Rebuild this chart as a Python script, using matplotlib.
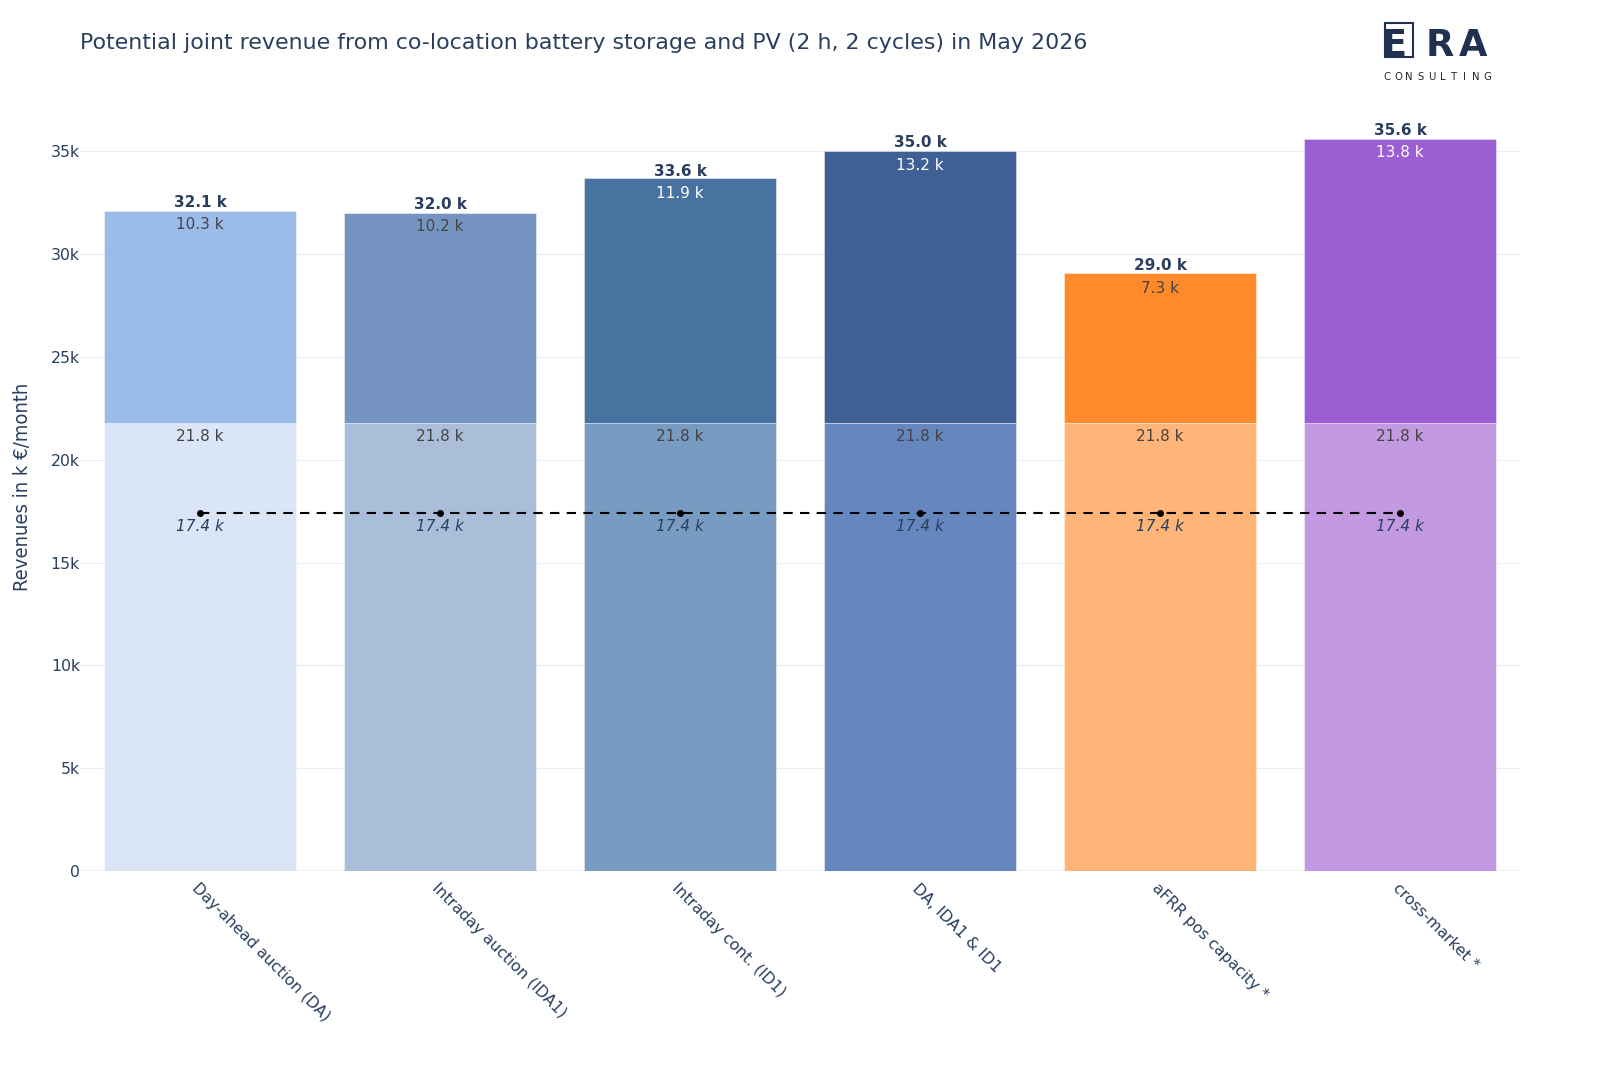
import matplotlib
matplotlib.use("Agg")
import matplotlib.pyplot as plt
from matplotlib.patches import Rectangle
import numpy as np

# data (k EUR / month)
categories = ["Day-ahead auction (DA)", "Intraday auction (IDA1)", "Intraday cont. (ID1)",
              "DA, IDA1 & ID1", "aFRR pos capacity *", "cross-market *"]
pv_base = [21.8, 21.8, 21.8, 21.8, 21.8, 21.8]
battery_add = [10.3, 10.2, 11.9, 13.2, 7.3, 13.8]
totals = [32.1, 32.0, 33.6, 35.0, 29.0, 35.6]
pv_only = [17.4, 17.4, 17.4, 17.4, 17.4, 17.4]

base_colors = ["#dae5f6", "#aabdd9", "#789bc2", "#6587bd", "#ffb578", "#c399e2"]
top_colors = ["#9bbbe9", "#7694c1", "#4873a0", "#3f6094", "#ff8a2b", "#9d5ed3"]
top_text_colors = ["#444444", "#444444", "white", "white", "#444444", "white"]

navy = "#2a3f5f"
grid = "#ebf0f8"

fig = plt.figure(figsize=(16, 10.67), dpi=100)
ax = fig.add_axes([0.05, 0.1837, 0.90, 0.7203])

x = np.arange(len(categories))
ax.bar(x, pv_base, width=0.8, color=base_colors, edgecolor=(1, 1, 1, 0.5), linewidth=0.6, zorder=2)
ax.bar(x, battery_add, bottom=pv_base, width=0.8, color=top_colors,
       edgecolor=(1, 1, 1, 0.5), linewidth=0.6, zorder=2)

# labels
fs = 11
for i in range(len(x)):
    ax.annotate(f"{totals[i]:.1f} k", (x[i], totals[i]), xytext=(0, 1), textcoords="offset points",
                ha="center", va="bottom", fontsize=fs, fontweight="bold", color=navy, zorder=5)
    ax.annotate(f"{battery_add[i]:.1f} k", (x[i], totals[i]), xytext=(0, -4.5), textcoords="offset points",
                ha="center", va="top", fontsize=fs, color=top_text_colors[i], zorder=5)
    ax.annotate(f"{pv_base[i]:.1f} k", (x[i], pv_base[i]), xytext=(0, -4.5), textcoords="offset points",
                ha="center", va="top", fontsize=fs, color="#444444", zorder=5)
    ax.annotate(f"{pv_only[i]:.1f} k", (x[i], pv_only[i]), xytext=(0, -4.5), textcoords="offset points",
                ha="center", va="top", fontsize=fs, style="italic", color=navy, zorder=5)

ax.plot(x, pv_only, color="black", linestyle=(0, (4.5, 3.5)), linewidth=1.5,
        marker="o", markersize=4, zorder=4)

ax.set_xlim(-0.5, len(x) - 0.5)
ax.set_ylim(0, 37.38)
ax.set_yticks([0, 5, 10, 15, 20, 25, 30, 35])
ax.set_yticklabels(["0", "5k", "10k", "15k", "20k", "25k", "30k", "35k"])
ax.set_xticks(x)
ax.set_xticklabels(categories, rotation=-45, ha="left", rotation_mode="anchor")
ax.grid(axis="y", color=grid, linewidth=1, zorder=0)
ax.axhline(0, color=grid, linewidth=2, zorder=1)
for s in ax.spines.values():
    s.set_visible(False)
ax.tick_params(axis="both", length=0, colors=navy, labelsize=11.3)
ax.tick_params(axis="y", pad=0)
ax.tick_params(axis="x", pad=7)
ax.set_ylabel("Revenues in k €/month", fontsize=14.5, color=navy, fontstretch="condensed", va="center")
ax.yaxis.set_label_coords(-0.04, 0.5)

fig.text(0.05, 0.96, "Potential joint revenue from co-location battery storage and PV (2 h, 2 cycles) in May 2026",
         fontsize=15.9, color=navy, ha="left", va="center")

# logo
logo = "#1f3050"
for letter, lx in zip("ERA", [1382, 1426, 1459]):
    fig.text(lx / 1600, 1 - 56 / 1067, letter, fontsize=26.5, fontweight="bold", color=logo,
             ha="left", va="baseline")
fig.add_artist(Rectangle((1385 / 1600, 1 - 57 / 1067), 28 / 1600, 34 / 1067, transform=fig.transFigure,
                         fill=False, edgecolor=logo, linewidth=1.5))
for k, letter in enumerate("CONSULTING"):
    fig.text((1387 + k * 11.1) / 1600, 1 - 77 / 1067, letter, fontsize=7.3, color="#222222",
             ha="center", va="center")

fig.savefig("out.png", dpi=100)
